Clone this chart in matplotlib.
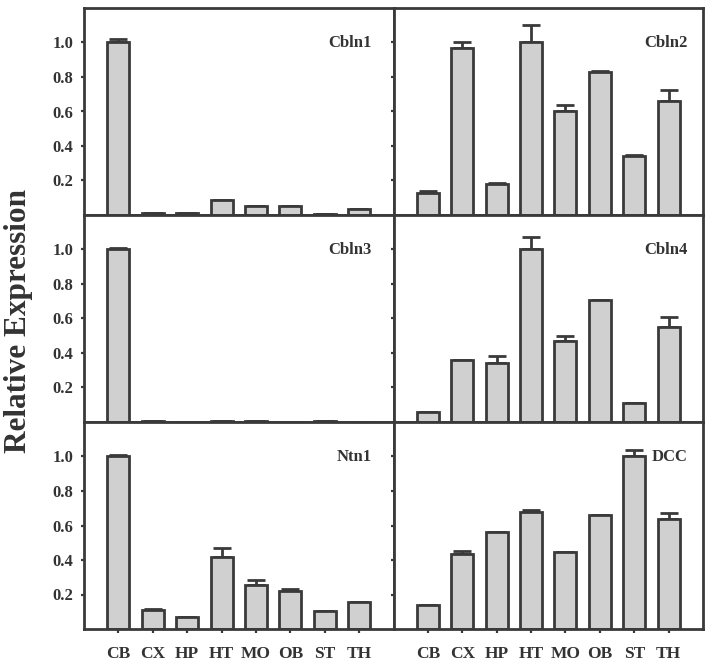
import numpy as np
import matplotlib
matplotlib.use("Agg")
import matplotlib.pyplot as plt

plt.rcParams['font.family'] = ['Liberation Serif', 'DejaVu Serif']
plt.rcParams['font.weight'] = 'bold'

regions = ["CB", "CX", "HP", "HT", "MO", "OB", "ST", "TH"]

genes = ["Cbln1", "Cbln2", "Cbln3", "Cbln4", "Ntn1", "DCC"]

# mean relative expression per region
cbln1 = [1.00, 0.010, 0.012, 0.086, 0.053, 0.050, 0.006, 0.037]
cbln2 = [0.125, 0.97, 0.18, 1.00, 0.60, 0.83, 0.343, 0.66]
cbln3 = [1.00, 0.003, 0.0, 0.003, 0.003, 0.0, 0.003, 0.0]
cbln4 = [0.058, 0.357, 0.341, 1.00, 0.468, 0.71, 0.113, 0.55]
ntn1 = [1.00, 0.108, 0.070, 0.42, 0.257, 0.222, 0.106, 0.156]
dcc = [0.141, 0.436, 0.56, 0.68, 0.444, 0.662, 1.00, 0.637]

# upper error (SEM)
cbln1_err = [0.02, 0.0, 0.0, 0.0, 0.0, 0.0, 0.0, 0.0]
cbln2_err = [0.015, 0.035, 0.005, 0.10, 0.04, 0.005, 0.007, 0.067]
cbln3_err = [0.01, 0.0, 0.0, 0.0, 0.0, 0.0, 0.0, 0.0]
cbln4_err = [0.0, 0.0, 0.039, 0.07, 0.029, 0.0, 0.0, 0.06]
ntn1_err = [0.01, 0.01, 0.0, 0.05, 0.029, 0.012, 0.0, 0.0]
dcc_err = [0.0, 0.019, 0.0, 0.01, 0.0, 0.0, 0.04, 0.035]

values = [cbln1, cbln2, cbln3, cbln4, ntn1, dcc]
errors = [cbln1_err, cbln2_err, cbln3_err, cbln4_err, ntn1_err, dcc_err]

dark = "#3a3a3a"
fill = "#d0d0d0"
lw = 2.0

fig, axes = plt.subplots(3, 2, figsize=(7.14, 6.66), dpi=100)
fig.subplots_adjust(left=84/714, right=703/714, top=1-8/666, bottom=1-629/666,
                    hspace=0, wspace=0)

x = np.arange(len(regions))
for i, ax in enumerate(axes.flat):
    v = values[i]
    e = errors[i]
    ax.bar(x, v, width=0.64, color=fill, edgecolor=dark, linewidth=lw, zorder=2)
    ax.errorbar(x, v, yerr=[np.zeros(len(e)), e], fmt="none", ecolor=dark,
                elinewidth=lw, capsize=6.5, capthick=lw, zorder=1)
    ax.set_xlim(-1, 8)
    ax.set_ylim(0, 1.2)
    ax.set_yticks([0.2, 0.4, 0.6, 0.8, 1.0])
    for s in ax.spines.values():
        s.set_linewidth(lw)
        s.set_color(dark)
    ax.tick_params(axis="both", direction="out", length=2.5, width=1.6,
                   color=dark, labelcolor="#333333", labelsize=12)
    col = i % 2
    row = i // 2
    if col == 0:
        ax.set_yticklabels(["0.2", "0.4", "0.6", "0.8", "1.0"])
        ax.tick_params(axis="y", right=True, pad=5)
    else:
        ax.set_yticklabels([])
    if row == 2:
        ax.set_xticks(x)
        ax.set_xticklabels(regions, fontsize=12.5)
        ax.tick_params(axis="x", length=3, pad=9)
    else:
        ax.set_xticks([])
    xpos = 0.93 if col == 0 else 0.95
    ax.text(xpos, 0.83, genes[i], transform=ax.transAxes, ha="right",
            va="center", fontsize=12, fontweight="bold", color="#333333")

fig.text(19/714, 0.5 + (666/2 - 321)/666, "Relative Expression", rotation=90,
         ha="center", va="center", fontsize=22.5, fontweight="bold", color="#333333")

fig.savefig("out.png", dpi=100)
